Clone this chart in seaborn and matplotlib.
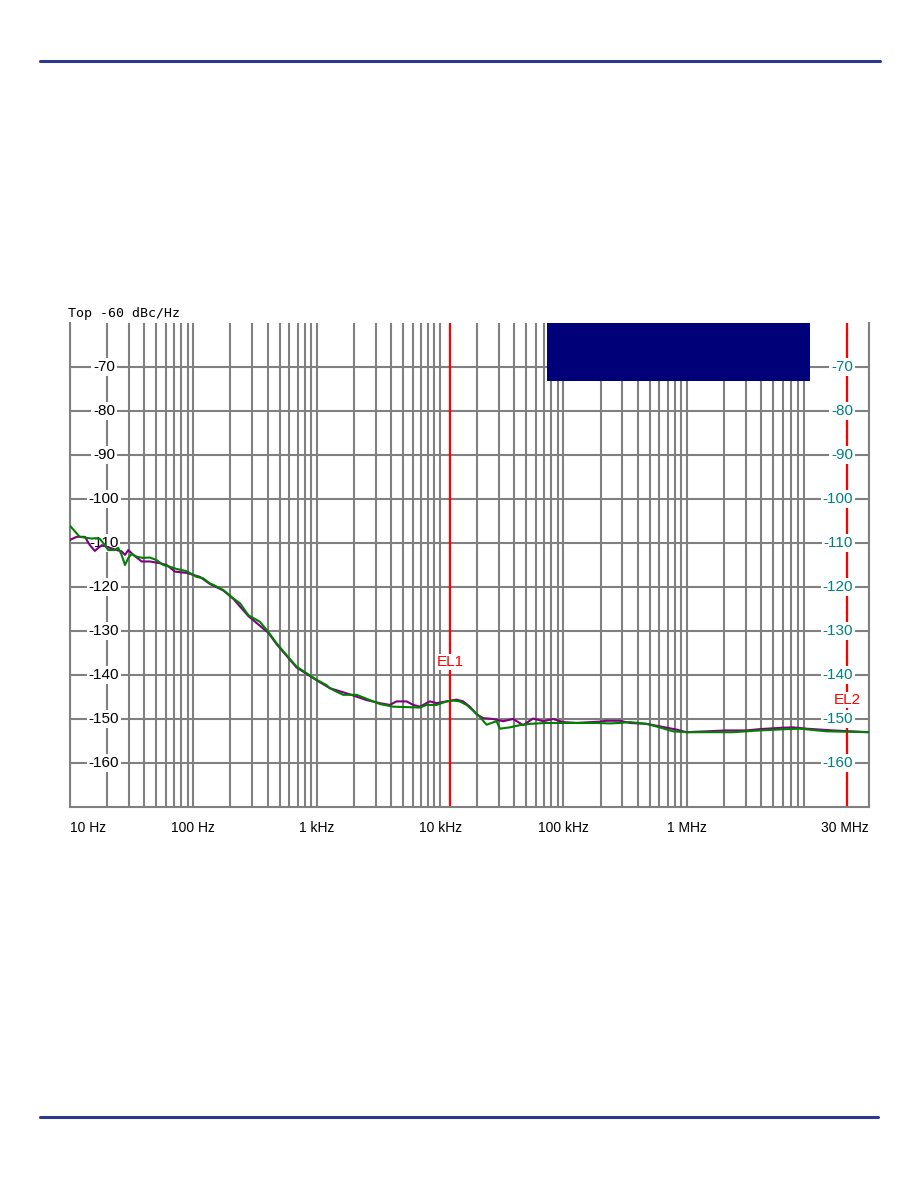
import matplotlib
matplotlib.use("Agg")
import matplotlib.pyplot as plt
import matplotlib.transforms as mtransforms
from matplotlib.lines import Line2D
from matplotlib.ticker import LogLocator, NullFormatter
import numpy as np
import pandas as pd
import seaborn as sns

# ---------------- data ----------------
green_f = [10, 10.3, 12, 15, 16, 17.5, 19.2, 20.4, 23.1, 24.6,
           26.2, 27.9, 29.7, 31.6, 34.7, 39, 44.5, 50.4, 57, 64.6,
           73.2, 88.3, 106, 120, 136, 145, 175, 211, 239, 279,
           346, 405, 473, 570, 687, 828, 998, 1202, 1279, 1449,
           1640, 1857, 2105, 2383, 2873, 3253, 4168, 5352, 6856, 7776,
           9372, 11294, 12774, 14460, 16410, 18530, 20990, 23820, 26140, 28710,
           30530, 36790, 44340, 53430, 72960, 99500, 185400, 237700, 286500, 345100,
           471000, 603600, 774000, 993300, 1634000, 2373000, 3906000, 6428000, 8238000, 13550000,
           30000000]
green_v = [-106.1, -106.5, -108.6, -109.0, -108.9, -109.1, -110.5, -111.6, -111.6, -111.1,
           -112.7, -115.0, -113.4, -112.5, -113.1, -113.4, -113.3, -113.9, -115.0, -115.4,
           -115.9, -116.4, -117.7, -118.0, -119.2, -119.5, -120.7, -122.6, -123.7, -126.4,
           -127.9, -130.2, -132.8, -135.5, -138.1, -139.6, -141.1, -142.3, -143.0, -143.8,
           -144.5, -144.5, -144.5, -145.1, -146.0, -146.6, -147.2, -147.3, -147.4, -146.8,
           -146.8, -146.0, -145.8, -146.0, -146.8, -148.1, -149.5, -151.3, -150.9, -150.5,
           -152.2, -151.9, -151.4, -151.1, -150.9, -150.9, -150.9, -151.0, -150.9, -150.7,
           -151.1, -151.9, -152.8, -153.0, -153.0, -153.0, -152.6, -152.3, -152.2, -152.8,
           -153.0]

purple_f = [10, 11.3, 13.2, 14.5, 15.9, 17.0, 18.1, 21.1, 23.9, 26.2,
            27.9, 29.7, 32.6, 38.1, 44.5, 53.6, 60.8, 70.9, 88.3, 113,
            136, 175, 211, 279, 405, 473, 687, 998, 1279, 1857,
            2537, 3253, 3917, 4436, 5352, 6056, 6856, 8262, 9372, 11294,
            13614, 15390, 17420, 19770, 22340, 26920, 32450, 39090, 47120, 56770,
            68500, 82600, 99500, 127700, 197200, 223400, 286500, 345100, 471000, 824800,
            993300, 1445000, 2099000, 3045000, 3906000, 5853000, 7268000, 9333000, 15340000, 30000000]
purple_v = [-109.3, -108.6, -108.6, -110.5, -111.8, -111.1, -110.5, -111.1, -111.6, -111.9,
            -112.7, -111.6, -112.7, -114.2, -114.2, -114.6, -115.0, -116.5, -116.8, -117.7,
            -119.3, -120.8, -122.7, -126.6, -130.4, -133.0, -138.3, -141.2, -143.0, -144.4,
            -145.7, -146.4, -146.8, -146.0, -146.0, -146.8, -147.2, -146.0, -146.4, -146.0,
            -145.6, -146.0, -147.2, -148.9, -149.8, -150.0, -150.5, -150.0, -151.4, -149.9,
            -150.5, -150.0, -150.7, -150.9, -150.6, -150.4, -150.4, -150.9, -151.1, -152.4,
            -153.0, -152.8, -152.6, -152.6, -152.3, -152.0, -151.9, -152.2, -152.6, -153.0]

x_ticks = [10, 100, 1e3, 1e4, 1e5, 1e6, 3e7]
x_labels = ["10 Hz", "100 Hz", "1 kHz", "10 kHz", "100 kHz", "1 MHz", "30 MHz"]
y_ticks = [-70, -80, -90, -100, -110, -120, -130, -140, -150, -160]
y_labels = ["-70", "-80", "-90", "-100", "-110", "-120", "-130", "-140", "-150", "-160"]
markers_f = [12000, 20e6]
markers_name = ["EL1", "EL2"]
markers_label_y = [-137.0, -145.7]
redact_f = [7.3e4, 1.006e7]
redact_bottom = -73.2
title = "Top -60 dBc/Hz"

# ---------------- style ----------------
sns.set_theme(style="white")
plt.rcParams["font.family"] = ["Liberation Sans", "DejaVu Sans"]

W, H = 918, 1188
fig = plt.figure(figsize=(W / 100, H / 100), dpi=100)
L, R, T, B = 70, 869, 323, 807
ax = fig.add_axes([L / W, 1 - B / H, (R - L) / W, (B - T) / H])

grid_c = "#808080"
ax.set_xscale("log")
ax.set_xlim(10, 3e7)
ax.set_ylim(-170, -60)

df_p = pd.DataFrame({"f": purple_f, "v": purple_v})
df_g = pd.DataFrame({"f": green_f, "v": green_v})
sns.lineplot(data=df_p, x="f", y="v", ax=ax, color="#800080", lw=1.5,
             estimator=None, sort=False, zorder=4)
sns.lineplot(data=df_g, x="f", y="v", ax=ax, color="#008000", lw=1.5,
             estimator=None, sort=False, zorder=4.1)

ax.set_xlabel("")
ax.set_ylabel("")

# grid
ax.xaxis.set_major_locator(LogLocator(base=10, numticks=20))
ax.xaxis.set_minor_locator(LogLocator(base=10, subs=np.arange(2, 10), numticks=40))
ax.xaxis.set_minor_formatter(NullFormatter())
ax.set_yticks(y_ticks)
ax.set_yticklabels([])
ax.grid(True, which="both", axis="x", color=grid_c, lw=1.5, zorder=0)
ax.grid(True, which="major", axis="y", color=grid_c, lw=1.5, zorder=0)
ax.set_axisbelow(True)
ax.tick_params(axis="both", which="both", length=0)

ax.set_xticks(x_ticks)
ax.set_xticklabels(x_labels, fontsize=10, color="black")
ax.tick_params(axis="x", pad=10)
xt = ax.get_xticklabels()
xt[0].set_ha("left")
xt[-1].set_ha("right")

for s in ["left", "bottom", "right"]:
    ax.spines[s].set_color(grid_c)
    ax.spines[s].set_linewidth(1.5)
ax.spines["top"].set_visible(False)

# y labels inside the plot
trans = mtransforms.blended_transform_factory(ax.transAxes, ax.transData)
for yv, lab in zip(y_ticks, y_labels):
    ax.text(0.0426, yv, lab, transform=trans, ha="center", va="center",
            fontsize=11, color="black", zorder=3,
            bbox=dict(facecolor="white", edgecolor="none", pad=1.2))
    ax.text(0.980, yv, lab, transform=trans, ha="right", va="center",
            fontsize=11, color="#008080", zorder=3,
            bbox=dict(facecolor="white", edgecolor="none", pad=1.2))

# marker lines
for mf, nm, ly in zip(markers_f, markers_name, markers_label_y):
    ax.axvline(mf, color="#ff0000", lw=1.6, zorder=2)
    ax.text(mf, ly, nm, ha="center", va="center", fontsize=11, color="#ff0000",
            zorder=3, bbox=dict(facecolor="white", edgecolor="none", pad=0.8))

# redaction box
ax.axvspan(redact_f[0], redact_f[1], ymin=(redact_bottom + 170) / 110, ymax=1.0,
           color="#000078", lw=0, zorder=6)

# title
fig.text(68 / W, 1 - 314 / H, title, ha="left", va="center", fontsize=9.5,
         family="DejaVu Sans Mono", color="black")

# header/footer rules
hdr = "#2B3990"
fig.add_artist(Line2D([40 / W, 880 / W], [1 - 61.3 / H, 1 - 61.3 / H], color=hdr, lw=2.2))
fig.add_artist(Line2D([40 / W, 877.7 / W], [1 - 1117.3 / H, 1 - 1117.3 / H], color=hdr, lw=2.2))

fig.savefig("out.png", dpi=100, facecolor="white")
